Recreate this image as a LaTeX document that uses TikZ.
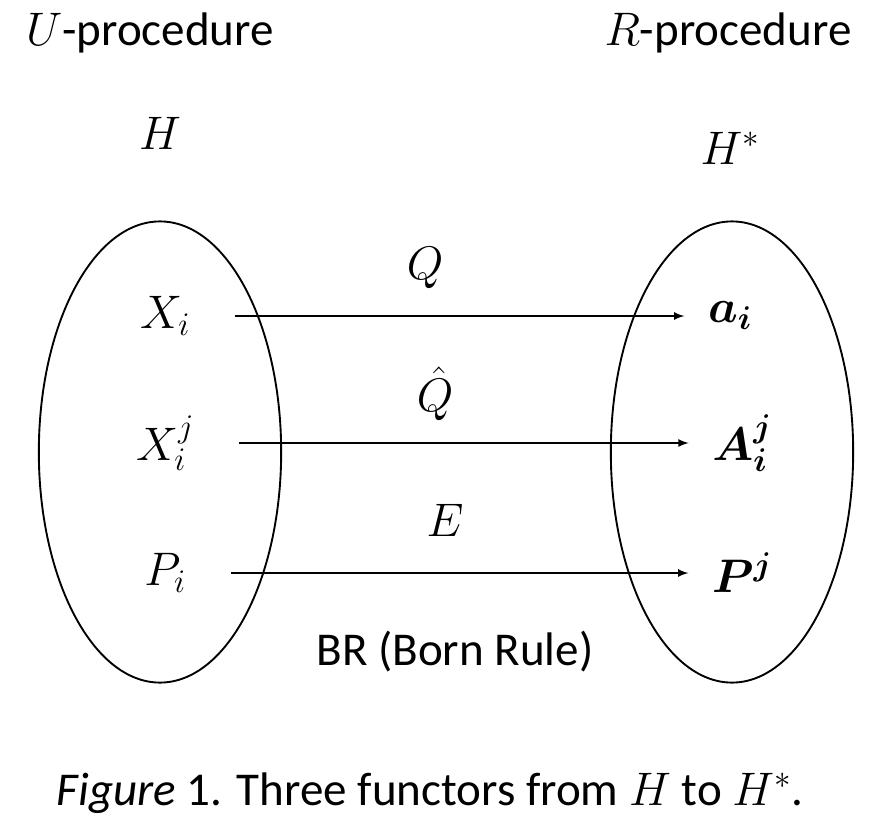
\RequirePackage{fix-cm}
\documentclass[tikz,border=0pt]{standalone}
\usepackage{amsmath,bm}
\usepackage{fontspec}
\setmainfont{Carlito}
\usetikzlibrary{shapes.geometric}

\begin{document}
\begin{tikzpicture}[x=0.85pt,y=-0.85pt,>=latex,
	every node/.style={font=\fontsize{40}{48}\selectfont,inner sep=2pt},
	space/.style={draw,ellipse,line width=1.6pt,inner sep=0pt,minimum width=206pt,minimum height=392pt},
	functor/.style={->,line width=2pt,shorten <=36pt,shorten >=18pt}]

\useasboundingbox (0,0) rectangle (870,833);

% the two spaces
\node [space] (Hsp) at (160,452) {};
\node [space] (Hstar) at (732,452) {};

\node (uproc) at (150,33) {$U$-procedure};
\node (rproc) at (728,33) {$R$-procedure};
\node (H) at (160,133) {$H$};
\node (Hst) at (730,148) {$H^*$};

% objects in H
\node (x) at (165,316) {$X_i$};
\node (xj) at (165,443) {$X_i^j$};
\node (p) at (165,573) {$P_i$};

% images in H*
\node (a) at (730,316) {$\bm{a_i}$};
\node (aj) at (742,443) {$\bm{A_i^j}$};
\node (pj) at (742,573) {$\bm{P^j}$};

%%%%%%%%%%%%%%%%%%%%%%%%%%%%%%%%%%%%%%%%%%%%%%%%%%%%%%%%%%%%%%%%

\draw [functor] (x) -- (a);
\draw [functor] (xj) -- (aj);
\draw [functor] (p) -- (pj);

\node (q) at (425,268) {$Q$};
\node (qhat) at (435,394) {$\hat{Q}$};
\node (e) at (445,520) {$E$};
\node (br) at (455,652) {BR (Born Rule)};

%%%%%%%%%%%%%%%%%%%%%%%%%%%%%%%%%%%%%%%%%%%%%%%%%%%%%%%%%%%%%%%%

\node (caption) at (430,793) {\textit{Figure} 1. Three functors from $H$ to $H^*$.};

\end{tikzpicture}
\end{document}
